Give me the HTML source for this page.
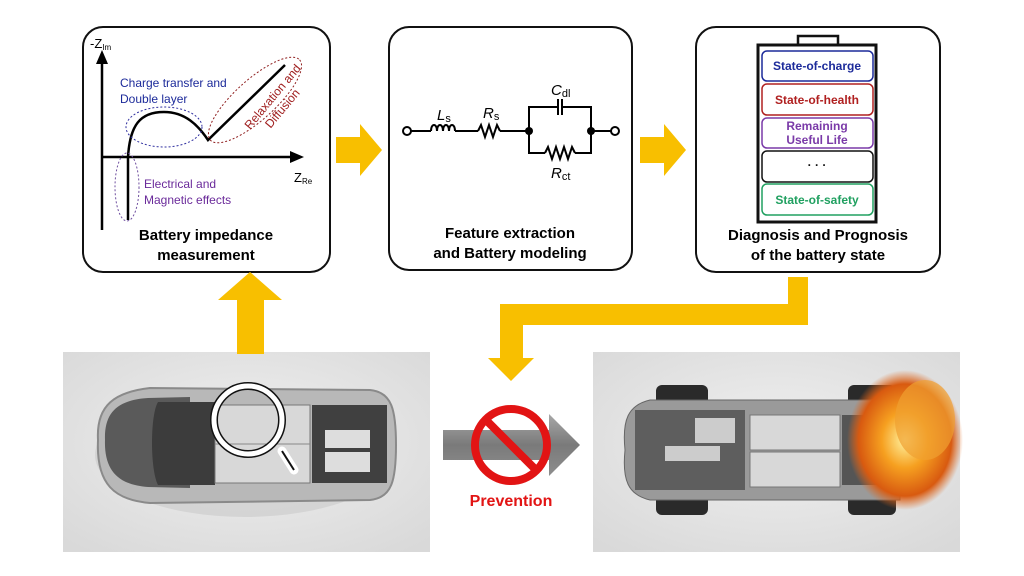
<!DOCTYPE html>
<html><head><meta charset="utf-8"><style>
html,body{margin:0;padding:0;background:#fff;}
svg{display:block;}
text{font-family:"Liberation Sans",Arial,sans-serif;}
</style></head><body>
<svg width="1024" height="576" viewBox="0 0 1024 576" xmlns="http://www.w3.org/2000/svg">
<defs>
<radialGradient id="bg1" cx="0.5" cy="0.45" r="0.7"><stop offset="0" stop-color="#f0f0f0"/><stop offset="1" stop-color="#d9d9d9"/></radialGradient>
<linearGradient id="garr" x1="0" y1="0" x2="0" y2="1"><stop offset="0" stop-color="#a8a8a8"/><stop offset="0.5" stop-color="#7a7a7a"/><stop offset="1" stop-color="#8e8e8e"/></linearGradient>
<radialGradient id="fire" cx="0.5" cy="0.5" r="0.5"><stop offset="0" stop-color="#fff2a0"/><stop offset="0.4" stop-color="#f6a020"/><stop offset="0.8" stop-color="#d85a10"/><stop offset="1" stop-color="#e06a20" stop-opacity="0"/></radialGradient>
</defs>
<rect width="1024" height="576" fill="#fff"/>

<!-- Box 1 -->
<rect x="83" y="27" width="247" height="245" rx="20" fill="#fff" stroke="#111" stroke-width="2"/>
<line x1="102" y1="230" x2="102" y2="62" stroke="#000" stroke-width="2.5"/>
<polygon points="96,64 108,64 102,50" fill="#000"/>
<line x1="102" y1="157" x2="292" y2="157" stroke="#000" stroke-width="2.5"/>
<polygon points="290,151 290,163 304,157" fill="#000"/>
<text x="90" y="48" font-size="13" fill="#000">-Z<tspan font-size="8" dy="2">Im</tspan></text>
<text x="294" y="182" font-size="13" fill="#000">Z<tspan font-size="8" dy="2">Re</tspan></text>
<path d="M128,220 L128,157 C130,125 140,112 164,112 C185,112 198,125 208,140 L285,65" fill="none" stroke="#000" stroke-width="2.5"/>
<ellipse cx="164" cy="127" rx="38" ry="20" fill="none" stroke="#3030a0" stroke-width="1" stroke-dasharray="2,2"/>
<ellipse cx="127" cy="187" rx="12" ry="34" fill="none" stroke="#7050a0" stroke-width="1" stroke-dasharray="2,2"/>
<ellipse cx="255" cy="100" rx="60" ry="20" transform="rotate(-42 255 100)" fill="none" stroke="#902020" stroke-width="1" stroke-dasharray="2,2"/>
<text x="120" y="87" font-size="12" fill="#1c2a9a">Charge transfer and</text>
<text x="120" y="103" font-size="12" fill="#1c2a9a">Double layer</text>
<text x="144" y="188" font-size="12" fill="#6a2a9a">Electrical and</text>
<text x="144" y="204" font-size="12" fill="#6a2a9a">Magnetic effects</text>
<text transform="translate(250,130) rotate(-50)" font-size="12" fill="#a02020"><tspan x="0" y="0">Relaxation and</tspan><tspan x="14" y="15">Diffusion</tspan></text>
<text x="206" y="240" font-size="15" font-weight="bold" text-anchor="middle">Battery impedance</text>
<text x="206" y="260" font-size="15" font-weight="bold" text-anchor="middle">measurement</text>

<!-- Box 2 -->
<rect x="389" y="27" width="243" height="243" rx="20" fill="#fff" stroke="#111" stroke-width="2"/>
<g stroke="#000" stroke-width="2" fill="none">
<circle cx="407" cy="131" r="4" fill="#fff"/>
<line x1="411" y1="131" x2="431" y2="131"/>
<path d="M431,131 c0,-8 6,-8 6,0 c0,-8 6,-8 6,0 c0,-8 6,-8 6,0 c0,-8 6,-8 6,0"/>
<line x1="455" y1="131" x2="478" y2="131"/>
<path d="M478,131 l3,-6 l4,12 l4,-12 l4,12 l4,-12 l3,6"/>
<line x1="500" y1="131" x2="529" y2="131"/>
<path d="M529,131 V107 H558 M562,107 H591 V131 M529,131 V153 H545 M575,153 H591 V131"/>
<line x1="558" y1="99" x2="558" y2="115"/><line x1="562" y1="99" x2="562" y2="115"/>
<path d="M545,153 l3,-6 l4,12 l4,-12 l4,12 l4,-12 l4,12 l4,-12 l3,6"/>
<line x1="591" y1="131" x2="611" y2="131"/>
<circle cx="615" cy="131" r="4" fill="#fff"/>
</g>
<circle cx="529" cy="131" r="4" fill="#000"/><circle cx="591" cy="131" r="4" fill="#000"/>
<text x="437" y="120" font-size="15" font-style="italic">L<tspan font-size="11" dy="2" font-style="normal">s</tspan></text>
<text x="483" y="118" font-size="15" font-style="italic">R<tspan font-size="11" dy="2" font-style="normal">s</tspan></text>
<text x="551" y="95" font-size="15" font-style="italic">C<tspan font-size="11" dy="2" font-style="normal">dl</tspan></text>
<text x="551" y="178" font-size="15" font-style="italic">R<tspan font-size="11" dy="2" font-style="normal">ct</tspan></text>
<text x="510" y="238" font-size="15" font-weight="bold" text-anchor="middle">Feature extraction</text>
<text x="510" y="258" font-size="15" font-weight="bold" text-anchor="middle">and Battery modeling</text>

<!-- Box 3 -->
<rect x="696" y="27" width="244" height="245" rx="20" fill="#fff" stroke="#111" stroke-width="2"/>
<rect x="798" y="36" width="40" height="9" fill="#fff" stroke="#111" stroke-width="2.5"/>
<rect x="758" y="45" width="118" height="177" fill="#fff" stroke="#111" stroke-width="3"/>
<g font-size="12" font-weight="bold" text-anchor="middle" fill="none" stroke-width="1.5">
<rect x="762" y="51" width="111" height="30" rx="5" stroke="#1c2a9a"/>
<rect x="762" y="84" width="111" height="31" rx="5" stroke="#b02020"/>
<rect x="762" y="118" width="111" height="30" rx="5" stroke="#7a3aa8"/>
<rect x="762" y="151" width="111" height="31" rx="5" stroke="#111"/>
<rect x="762" y="184" width="111" height="31" rx="5" stroke="#20a060"/>
</g>
<g font-size="12" font-weight="bold" text-anchor="middle">
<text x="817" y="70" fill="#1c2a9a">State-of-charge</text>
<text x="817" y="104" fill="#b02020">State-of-health</text>
<text x="817" y="130" fill="#7a3aa8">Remaining</text>
<text x="817" y="144" fill="#7a3aa8">Useful Life</text>
<text x="817" y="169" fill="#111">·   ·   ·</text>
<text x="817" y="204" fill="#20a060">State-of-safety</text>
</g>
<text x="818" y="240" font-size="15" font-weight="bold" text-anchor="middle">Diagnosis and Prognosis</text>
<text x="818" y="260" font-size="15" font-weight="bold" text-anchor="middle">of the battery state</text>

<!-- Yellow arrows -->
<g fill="#f8bf00">
<polygon points="336,137 360,137 360,124 382,150 360,176 360,163 336,163"/>
<polygon points="640,137 664,137 664,124 686,150 664,176 664,163 640,163"/>
<polygon points="237,350 264,350 264,300 282,300 250,272 218,300 237,300"/>
<polygon points="788,277 808,277 808,325 523,325 523,358 534,358 511,381 488,358 500,358 500,304 788,304"/>
</g>

<!-- Left photo -->
<rect x="63" y="352" width="367" height="200" fill="url(#bg1)"/>
<rect x="237" y="352" width="27" height="0" fill="#f8bf00"/>
<rect x="237" y="350" width="27" height="4" fill="#f8bf00"/>
<ellipse cx="245" cy="455" rx="150" ry="62" fill="#c9c9c9" opacity="0.6"/>
<path d="M98,440 C96,405 115,392 150,388 L370,390 C392,392 396,410 396,445 C396,480 392,498 370,500 L150,503 C115,500 96,485 98,440 Z" fill="#b8b8b8" stroke="#8a8a8a" stroke-width="2"/>
<path d="M105,440 C104,412 118,400 148,398 L190,397 L190,488 L148,487 C118,485 104,470 105,440Z" fill="#5a5a5a"/>
<path d="M158,402 L215,402 L215,485 L158,485 C150,470 150,415 158,402Z" fill="#3c3c3c"/>
<rect x="215" y="405" width="95" height="78" fill="#d8d8d8" stroke="#777"/>
<line x1="215" y1="444" x2="310" y2="444" stroke="#888"/>
<rect x="312" y="405" width="75" height="78" fill="#404040"/>
<rect x="325" y="430" width="45" height="18" fill="#ddd"/><rect x="325" y="452" width="45" height="20" fill="#ddd"/>
<line x1="282" y1="451" x2="294" y2="470" stroke="#fff" stroke-width="9" stroke-linecap="round"/>
<line x1="282" y1="451" x2="294" y2="470" stroke="#111" stroke-width="2"/>
<circle cx="248" cy="420" r="34" fill="none" stroke="#111" stroke-width="8"/>
<circle cx="248" cy="420" r="34" fill="none" stroke="#fff" stroke-width="5"/>

<!-- Gray arrow + prohibition -->
<polygon points="443,430 549,430 549,414 580,445 549,476 549,460 443,460" fill="url(#garr)"/>
<circle cx="511" cy="445" r="36" fill="none" stroke="#e21414" stroke-width="8"/>
<line x1="486" y1="420" x2="536" y2="470" stroke="#e21414" stroke-width="8"/>
<text x="511" y="506" font-size="16" font-weight="bold" fill="#e21414" text-anchor="middle">Prevention</text>

<!-- Right photo -->
<rect x="593" y="352" width="367" height="200" fill="url(#bg1)"/>
<rect x="656" y="385" width="52" height="22" rx="6" fill="#2a2a2a"/>
<rect x="656" y="493" width="52" height="22" rx="6" fill="#2a2a2a"/>
<rect x="848" y="385" width="48" height="22" rx="6" fill="#2a2a2a"/>
<rect x="848" y="493" width="48" height="22" rx="6" fill="#2a2a2a"/>
<path d="M625,450 C622,420 628,405 650,400 L900,400 L900,500 L650,500 C628,495 622,480 625,450Z" fill="#9a9a9a" stroke="#666"/>
<rect x="635" y="410" width="110" height="80" fill="#5e5e5e"/>
<rect x="695" y="418" width="40" height="25" fill="#ccc"/>
<rect x="665" y="446" width="55" height="15" fill="#ccc"/>
<rect x="750" y="415" width="90" height="35" fill="#d8d8d8" stroke="#777"/>
<rect x="750" y="452" width="90" height="35" fill="#d8d8d8" stroke="#777"/>
<rect x="842" y="415" width="40" height="70" fill="#555"/>
<ellipse cx="905" cy="440" rx="58" ry="70" fill="url(#fire)"/>
<ellipse cx="925" cy="420" rx="30" ry="40" fill="#f0a030" opacity="0.7"/>
</svg>
</body></html>
